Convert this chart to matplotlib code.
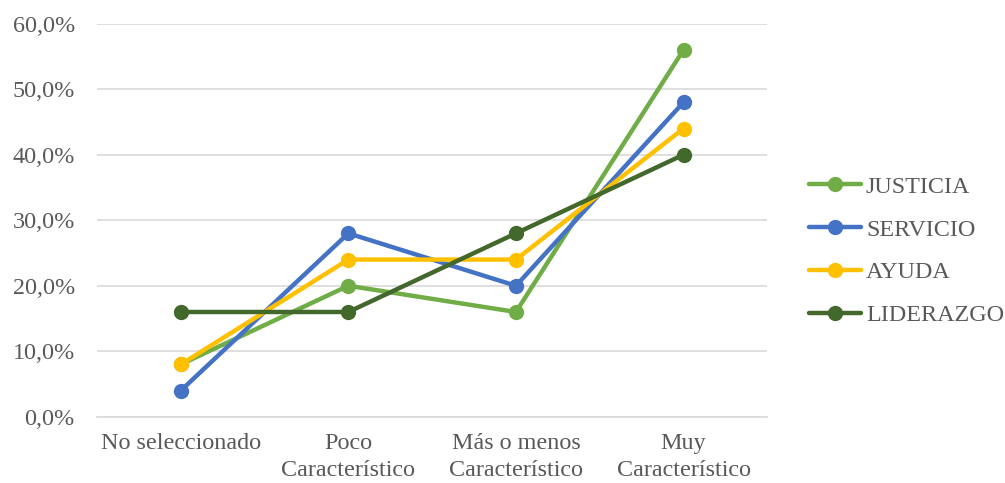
import numpy as np
import matplotlib.pyplot as plt
from matplotlib.ticker import FuncFormatter

categories = ["No seleccionado", "Poco\nCaracterístico", "Más o menos\nCaracterístico", "Muy\nCaracterístico"]
justicia = [8, 20, 16, 56]
servicio = [4, 28, 20, 48]
ayuda = [8, 24, 24, 44]
liderazgo = [16, 16, 28, 40]

series = [
    ("JUSTICIA", justicia, "#70AD47"),
    ("SERVICIO", servicio, "#4472C4"),
    ("AYUDA", ayuda, "#FFC000"),
    ("LIDERAZGO", liderazgo, "#43682B"),
]

plt.rcParams['font.family'] = ['Liberation Serif', 'DejaVu Serif']
text_color = "#595959"
fs = 17.4

fig = plt.figure(figsize=(10.05, 4.83), dpi=100)
ax = fig.add_axes([0.0965, 0.137, 0.667, 0.814])

x = np.arange(len(categories))
for name, vals, col in series:
    ax.plot(x, vals, color=col, linewidth=3.2, marker='o', markersize=10,
            label=name, solid_capstyle='round', zorder=3)

ax.set_xlim(-0.5, len(categories) - 0.5)
ax.set_ylim(0, 60)
ax.set_yticks(np.arange(0, 61, 10))
ax.yaxis.set_major_formatter(FuncFormatter(lambda v, p: f"{v:.1f}%".replace(".", ",")))
ax.set_xticks(x)
ax.set_xticklabels(categories, linespacing=1.35)
ax.tick_params(axis='both', length=0, labelsize=fs, colors=text_color)
ax.tick_params(axis='y', pad=16)
ax.tick_params(axis='x', pad=12)

ax.grid(axis='y', color="#D9D9D9", linewidth=1.2, zorder=0)
for s in ['top', 'right', 'left']:
    ax.spines[s].set_visible(False)
ax.spines['bottom'].set_color("#D9D9D9")
ax.spines['bottom'].set_linewidth(1.2)

handles, labels = ax.get_legend_handles_labels()
fig.legend(handles, labels, loc='center left', bbox_to_anchor=(797 / 1005, 1 - 251 / 483),
           frameon=False, borderpad=0, fontsize=fs, handlelength=2.15,
           handletextpad=0.2, labelspacing=0.86, labelcolor=text_color)

fig.savefig("out.png", dpi=100)
